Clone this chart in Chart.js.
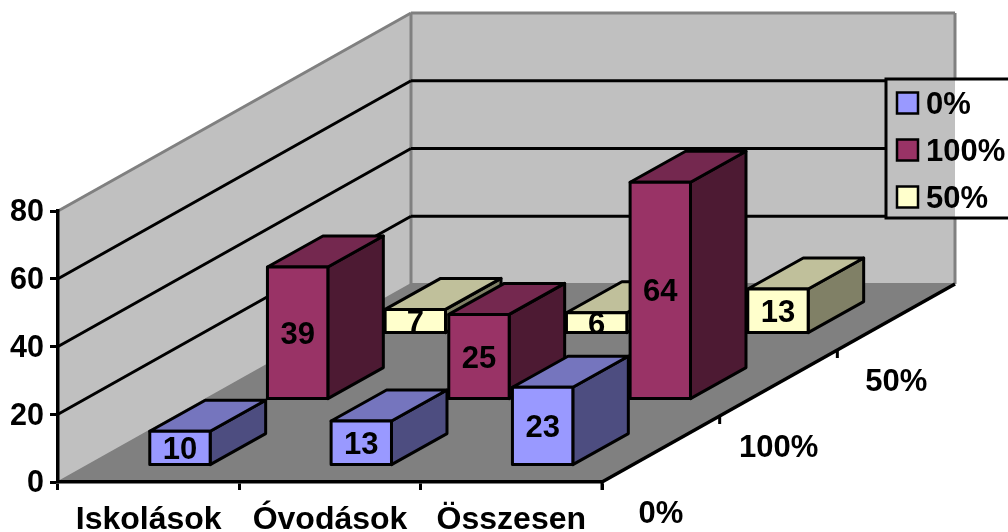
<!DOCTYPE html>
<html lang="hu">
<head>
  <meta charset="UTF-8" />
  <title>Chart</title>
  <script src="https://cdn.jsdelivr.net/npm/chart.js"></script>
  <style>
    body { margin: 0; background: #fff; }
    canvas { display: block; }
  </style>
</head>
<body>
  <canvas id="chart" width="1008" height="532"></canvas>
  <script>
    const categories = ["Iskolások", "Óvodások", "Összesen"];
    const seriesNames = ["0%", "100%", "50%"];
    const values0 = [10, 13, 23];
    const values100 = [39, 25, 64];
    const values50 = [7, 6, 13];
    const yTicks = [0, 20, 40, 60, 80];

    const frontColors = ["#9999FF", "#993366", "#FFFFCC"];
    const topColors = ["#7575BE", "#74284F", "#C0C09B"];
    const sideColors = ["#4D4D80", "#4D1A33", "#808066"];

    const FONT = 'bold 31px "Liberation Sans", Arial, sans-serif';

    // depth axis: one row of bars moves this far back
    const rowDx = 117.67, rowDy = -66;
    // depth of a single bar, and the gap in front of it inside its row
    const barDx = 55.5, barDy = -31;
    const gapDx = 31.3, gapDy = -16.9;

    function poly(ctx, pts, fill, stroke, lw) {
      ctx.beginPath();
      pts.forEach((p, i) => i ? ctx.lineTo(p[0], p[1]) : ctx.moveTo(p[0], p[1]));
      ctx.closePath();
      if (fill) { ctx.fillStyle = fill; ctx.fill(); }
      if (stroke) {
        ctx.strokeStyle = stroke;
        ctx.lineWidth = lw;
        ctx.lineJoin = "round";
        ctx.stroke();
      }
    }

    function line(ctx, x1, y1, x2, y2, color, lw) {
      ctx.beginPath();
      ctx.moveTo(x1, y1);
      ctx.lineTo(x2, y2);
      ctx.strokeStyle = color;
      ctx.lineWidth = lw;
      ctx.stroke();
    }

    const box3d = {
      id: "box3d",
      // walls and floor go under the axes
      beforeDraw(chart) {
        const ctx = chart.ctx;
        const sx = chart.scales.x, sy = chart.scales.y;
        const x0 = sx.left, x1 = sx.right;
        const y0 = sy.getPixelForValue(0), yT = sy.getPixelForValue(80);
        const dx = rowDx * seriesNames.length, dy = rowDy * seriesNames.length;
        ctx.save();
        poly(ctx, [[x0, y0], [x1, y0], [x1 + dx, y0 + dy], [x0 + dx, y0 + dy]], "#808080");
        poly(ctx, [[x0, y0], [x0, yT], [x0 + dx, yT + dy], [x0 + dx, y0 + dy]], "#C0C0C0");
        poly(ctx, [[x0 + dx, yT + dy], [x1 + dx, yT + dy], [x1 + dx, y0 + dy], [x0 + dx, y0 + dy]], "#C0C0C0");
        const edge = "#808080";
        line(ctx, x0, yT, x0 + dx, yT + dy, edge, 3);
        line(ctx, x0 + dx, yT + dy, x1 + dx, yT + dy, edge, 3);
        line(ctx, x1 + dx, yT + dy, x1 + dx, y0 + dy, edge, 3);
        line(ctx, x0 + dx, yT + dy, x0 + dx, y0 + dy, edge, 3);
        line(ctx, x0, y0, x0 + dx, y0 + dy, edge, 2);
        line(ctx, x0 + dx, y0 + dy, x1 + dx, y0 + dy, edge, 2);
        // gridlines
        yTicks.slice(1, -1).forEach(v => {
          const y = sy.getPixelForValue(v);
          line(ctx, x0, y, x0 + dx, y + dy, "#000", 3);
          line(ctx, x0 + dx, y + dy, x1 + dx, y + dy, "#000", 3);
        });
        // right floor edge, its ticks and the series labels
        line(ctx, x1, y0, x1 + dx, y0 + dy, "#000", 3.5);
        ctx.font = FONT;
        ctx.textAlign = "center";
        ctx.textBaseline = "middle";
        seriesNames.forEach((name, i) => {
          const px = x1 + rowDx * i, py = y0 + rowDy * i;
          line(ctx, px, py, px, py + 8, "#000", 3);
          ctx.fillStyle = "#000";
          ctx.fillText(name, px + 59, py + 32);
        });
        ctx.restore();
      },
      // side and top of each bar, then shift so the front face lands in its row
      beforeDatasetDraw(chart, args) {
        const ctx = chart.ctx;
        const i = args.index;
        const ox = gapDx + rowDx * i, oy = gapDy + rowDy * i;
        ctx.save();
        ctx.translate(ox, oy);
        args.meta.data.forEach(bar => {
          const { x, y, base, width } = bar.getProps(["x", "y", "base", "width"], true);
          const l = x - width / 2, r = x + width / 2;
          poly(ctx, [[r, y], [r + barDx, y + barDy], [r + barDx, base + barDy], [r, base]], sideColors[i], "#000", 3);
          poly(ctx, [[l, y], [l + barDx, y + barDy], [r + barDx, y + barDy], [r, y]], topColors[i], "#000", 3);
        });
      },
      // outline sits centred on the bar edge, then the value on top
      afterDatasetDraw(chart, args) {
        const ctx = chart.ctx;
        const ds = chart.data.datasets[args.index];
        ctx.font = FONT;
        ctx.textAlign = "center";
        ctx.textBaseline = "middle";
        args.meta.data.forEach((bar, k) => {
          const { x, y, base, width } = bar.getProps(["x", "y", "base", "width"], true);
          ctx.strokeStyle = "#000";
          ctx.lineWidth = 3;
          ctx.strokeRect(x - width / 2, y, width, base - y);
          ctx.fillStyle = "#000";
          ctx.fillText(String(ds.data[k]), x, (y + base) / 2 + 2.5);
        });
        ctx.restore();
      },
      afterDraw(chart) {
        const ctx = chart.ctx;
        const sx = chart.scales.x;
        const wallRight = sx.right + rowDx * seriesNames.length;
        const bx = 886, by = 79, bb = 218, rowH = 47;
        ctx.save();
        ctx.fillStyle = "#fff";
        ctx.fillRect(bx, by, 1008 - bx + 4, bb - by);
        ctx.fillStyle = "#C0C0C0";
        ctx.fillRect(bx, by, wallRight - bx, bb - by);
        ctx.strokeStyle = "#000";
        ctx.lineWidth = 3;
        ctx.strokeRect(bx, by, 1008 - bx + 4, bb - by);
        ctx.font = FONT;
        ctx.textAlign = "left";
        ctx.textBaseline = "middle";
        seriesNames.forEach((name, i) => {
          const y = 92.5 + rowH * i;
          ctx.fillStyle = frontColors[i];
          ctx.fillRect(897, y, 21, 21);
          ctx.strokeStyle = "#000";
          ctx.lineWidth = 2.5;
          ctx.strokeRect(897, y, 21, 21);
          ctx.fillStyle = "#000";
          ctx.fillText(name, 926, y + 13);
        });
        ctx.restore();
      }
    };

    const makeSet = (name, data, i) => ({
      label: name,
      data: data,
      backgroundColor: frontColors[i],
      borderWidth: 0,
      clip: false
    });

    new Chart(document.getElementById("chart"), {
      type: "bar",
      data: {
        labels: categories,
        datasets: [
          makeSet(seriesNames[0], values0, 0),
          makeSet(seriesNames[1], values100, 1),
          makeSet(seriesNames[2], values50, 2)
        ]
      },
      options: {
        responsive: false,
        animation: false,
        layout: { autoPadding: false, padding: { top: 211, right: 406, left: 0, bottom: 0 } },
        plugins: { legend: { display: false }, tooltip: { enabled: false } },
        datasets: { bar: { grouped: false, barPercentage: 0.333, categoryPercentage: 1 } },
        scales: {
          x: {
            afterFit(scale) { scale.height = 50; },
            border: { display: true, color: "#000", width: 3.5 },
            grid: { drawOnChartArea: false, drawTicks: true, tickLength: 8, tickColor: "#000", tickWidth: 3 },
            ticks: {
              color: "#000",
              autoSkip: false,
              maxRotation: 0,
              padding: 11,
              font: { family: '"Liberation Sans", Arial, sans-serif', size: 32, weight: "bold" }
            }
          },
          y: {
            min: 0,
            max: 80,
            afterFit(scale) { scale.width = 58; },
            border: { display: true, color: "#000", width: 3.5 },
            grid: { drawOnChartArea: false, drawTicks: true, tickLength: 8, tickColor: "#000", tickWidth: 3 },
            ticks: {
              color: "#000",
              stepSize: 20,
              padding: 6,
              labelOffset: 2,
              font: { family: '"Liberation Sans", Arial, sans-serif', size: 30.5, weight: "bold" }
            }
          }
        }
      },
      plugins: [box3d]
    });
  </script>
</body>
</html>
